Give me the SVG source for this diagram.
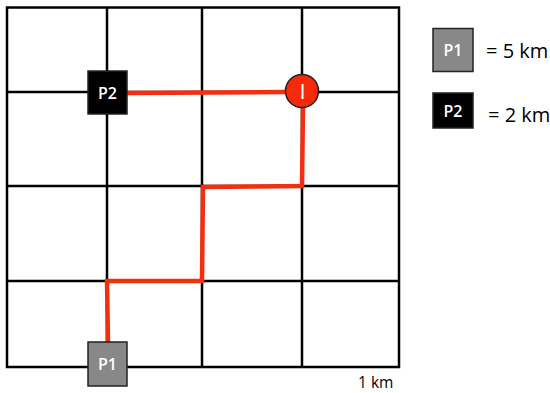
<svg xmlns="http://www.w3.org/2000/svg" width="550" height="393" viewBox="0 0 550 393">
<style>
.grid{stroke:#000;stroke-width:2.5;fill:none}
.route{stroke:#f2300f;stroke-width:4.5;fill:none;stroke-linejoin:miter}
.box{stroke:#222;stroke-width:1.5}
.lbl{font-family:"Open Sans","Liberation Sans",sans-serif;fill:#fff;font-size:16px;font-weight:600;text-anchor:middle}
.txt{font-family:"Open Sans","Liberation Sans",sans-serif;fill:#000}
</style>
<rect width="550" height="393" fill="#fff"/>
<g id="grid" class="grid">
<rect x="7" y="7.5" width="392" height="359.5"/>
<line x1="107" y1="7.5" x2="107" y2="367"/>
<line x1="202" y1="7.5" x2="202" y2="367"/>
<line x1="302" y1="7.5" x2="302" y2="367"/>
<line x1="7" y1="92" x2="399" y2="92"/>
<line x1="7" y1="186" x2="399" y2="186"/>
<line x1="7" y1="281" x2="399" y2="281"/>
</g>
<g id="connectors" class="route">
<path d="M127 93 L287 92"/>
<path d="M303 106 L302 186 L203 187 L202 281 L107 281 L108 343"/>
</g>
<g id="P2">
<rect class="box" x="88" y="71" width="39" height="43" fill="#000"/>
<text class="lbl" x="107.5" y="98.5">P2</text>
</g>
<g id="P1">
<rect class="box" x="88" y="342" width="39" height="44" fill="#888"/>
<text class="lbl" x="107.5" y="370">P1</text>
</g>
<g id="I">
<circle cx="302" cy="91" r="16.5" fill="#f52a0a" stroke="#222" stroke-width="1.5"/>
<line x1="302.5" y1="84" x2="302.5" y2="99" stroke="#fff" stroke-width="2"/>
</g>
<g id="legend-P1">
<rect class="box" x="433" y="28.5" width="40" height="43" fill="#888"/>
<text class="lbl" x="453" y="56">P1</text>
<text class="txt" x="486" y="58" font-size="20">= 5 km</text>
</g>
<g id="legend-P2">
<rect class="box" x="433" y="93" width="40" height="35" fill="#000"/>
<text class="lbl" x="453" y="116.5">P2</text>
<text class="txt" x="488" y="122" font-size="20">= 2 km</text>
</g>
<text class="txt" x="358" y="388" font-size="15.5">1 km</text>
</svg>
